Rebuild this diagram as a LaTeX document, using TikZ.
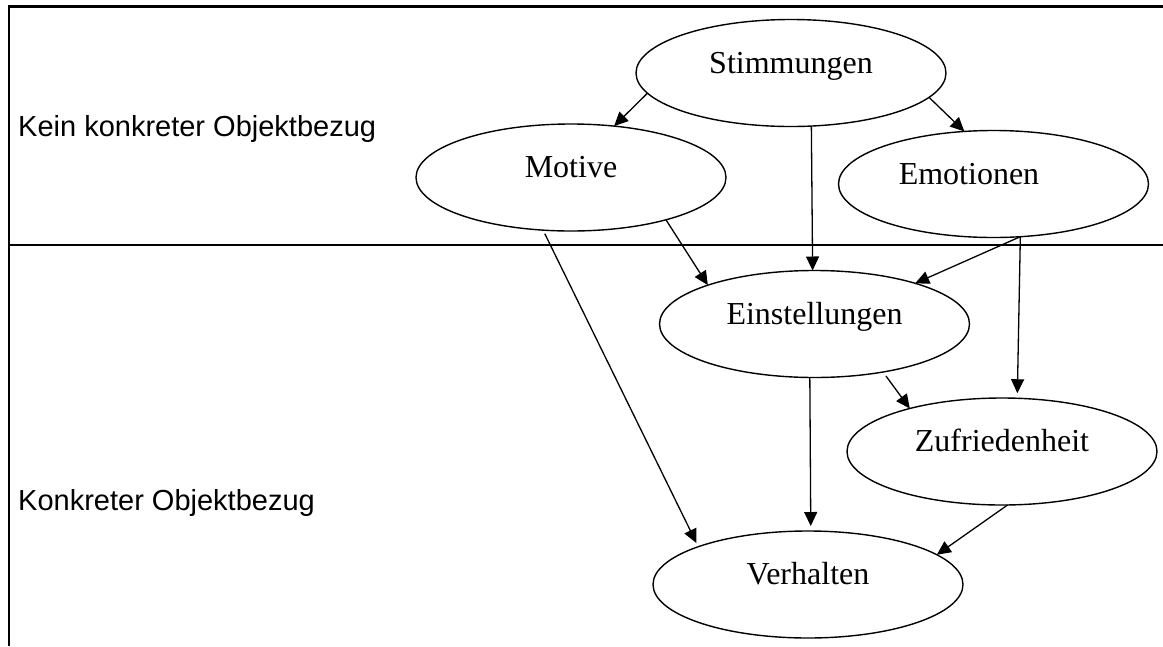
\documentclass[tikz,border=0pt]{standalone}
\usepackage{fontspec}
\setmainfont{Liberation Serif}
\newfontfamily\sansfont{Liberation Sans}
\usetikzlibrary{shapes.geometric,arrows.meta}

\tikzset{
  frameline/.style={line width=2.2pt},
  ell/.style={ellipse, draw, line width=1.4pt, minimum width=310pt,
              minimum height=107pt, inner sep=0pt, outer sep=0pt},
  lab/.style={anchor=base, inner sep=0pt, font=\fontsize{32pt}{38pt}\selectfont},
  zone/.style={anchor=base west, inner sep=0pt,
               font=\sansfont\fontsize{29pt}{35pt}\selectfont},
  arr/.style={line width=1.3pt, -{Triangle[length=14pt,width=13pt]}}
}

\begin{document}
\begin{tikzpicture}[x=1pt,y=-1pt]
  \useasboundingbox (0,0) rectangle (1163,646);

  % frame and divider between the two zones
  \coordinate (ftl) at (9,6.5);
  \coordinate (ftr) at (1163,6.5);
  \coordinate (fbl) at (9,646);
  \coordinate (dl) at (9,245);
  \coordinate (dr) at (1163,245);
  \draw[frameline] (ftr) -- (ftl) -- (fbl);
  \draw[frameline] (dl) -- (dr);

  % zone captions
  \node[zone] (zoneA) at (18,136) {Kein konkreter Objektbezug};
  \node[zone] (zoneB) at (18,510) {Konkreter Objektbezug};

  % concept ellipses
  \node[ell] (stim)  at (791,73)    {};
  \node[ell] (motiv) at (571,177.5) {};
  \node[ell] (emot)  at (993.5,184) {};
  \node[ell] (einst) at (814.5,324) {};
  \node[ell] (zufr)  at (1002,451.5) {};
  \node[ell] (verh)  at (808,584.5) {};

  % their labels, baseline on the centre line
  \node[lab] (stimT)  at (791,73)    {Stimmungen};
  \node[lab] (motivT) at (571,177.5) {Motive};
  \node[lab] (emotT)  at (969,184)   {Emotionen};
  \node[lab] (einstT) at (814.5,324) {Einstellungen};
  \node[lab] (zufrT)  at (1002,451.5) {Zufriedenheit};
  \node[lab] (verhT)  at (808,584.5) {Verhalten};

  % influences
  \draw[arr] (stim.188.7) -- (motiv.50.9);
  \draw[arr] (stim.350.7) -- (emot.119.9);
  \draw[arr] (stim.291.4) -- (einst.92.7);
  \draw[arr] (motiv.336.4) -- (einst.160.7);
  \draw[arr, shorten <=4pt, shorten >=4pt] (motiv.242.9) -- (verh.161.4);
  \draw[arr] (emot.297) -- (einst.22.1);
  \draw[arr, shorten >=5pt] (emot.297) -- (zufr.74.3);
  \draw[arr, shorten <=5pt] (einst.325.2) -- (zufr.155.2);
  \draw[arr, shorten >=5pt] (einst.265.1) -- (verh.87.8);
  \draw[arr] (zufr.276.4) -- (verh.13.4);
\end{tikzpicture}
\end{document}
